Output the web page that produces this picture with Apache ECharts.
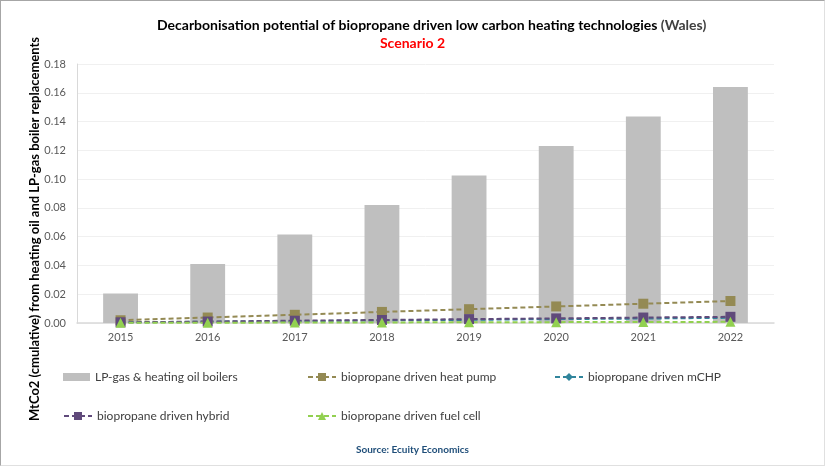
<!DOCTYPE html>
<html><head><meta charset="utf-8">
<script src="https://cdn.jsdelivr.net/npm/echarts@6/dist/echarts.min.js"></script>
<style>
html,body{margin:0;padding:0;background:#fff;}
#frame{position:absolute;left:0;top:0;width:823px;height:464px;border:1px solid #a6a6a6;border-right-color:#e0e0e0;border-bottom-color:#e0e0e0;}
#c{position:absolute;left:0;top:0;width:825px;height:466px;}
</style></head>
<body>
<div id="frame"></div>
<div id="c"></div>
<script>
const years = ['2015','2016','2017','2018','2019','2020','2021','2022'];
const boilers = [0.0205,0.041,0.0615,0.082,0.1025,0.123,0.1435,0.164];
const heatPump = [0.0019,0.0038,0.0057,0.0077,0.0096,0.0115,0.0134,0.0153];
const mCHP = [0.0004,0.0009,0.0013,0.0018,0.0022,0.0027,0.0031,0.0036];
const hybrid = [0.0005,0.0010,0.0016,0.0021,0.0027,0.0032,0.0038,0.0043];
const fuelCell = [0.0001,0.0002,0.0003,0.0004,0.0005,0.0006,0.0007,0.0008];
const names = ['LP-gas & heating oil boilers','biopropane driven heat pump','biopropane driven mCHP','biopropane driven hybrid','biopropane driven fuel cell'];
const yTitle = 'MtCo2 (cmulative) from heating oil and LP-gas boiler replacements';

const chart = echarts.init(document.getElementById('c'), null, {renderer:'canvas'});
const font = 'Lato, "Open Sans", sans-serif';
const legendPos = [[58,366],[302,366],[549,366],[58,405],[302,405]];
const legends = names.map((n,i)=>({
  data:[n], left:legendPos[i][0], top:legendPos[i][1], itemWidth:i===0?27:28, itemHeight:i===0?8:10,
  itemGap:3, textStyle:{fontFamily:font,fontSize:12,color:'#404040'}, icon: i===0?'rect':undefined
}));
function lineSeries(name,data,color,symbol,size){
  return {name, type:'line', data, symbol, symbolSize:size, showSymbol:true,
    lineStyle:{color, width:2, type:[5,3]}, itemStyle:{color}, z:3};
}
chart.setOption({
  animation:false,
  title:[{
    text:'{b|Decarbonisation potential of biopropane driven low carbon heating technologies}{n| (Wales)}',
    left:152, top:13,
    textStyle:{rich:{b:{fontFamily:font,fontSize:14,fontWeight:'bold',color:'#000'},n:{fontFamily:font,fontSize:14,color:'#404040'}}}
  },{
    text:'Scenario 2', left:'center', top:31,
    textStyle:{fontFamily:font,fontSize:14,fontWeight:'bold',color:'#ff0000'}
  },{
    text:'Source: Ecuity Economics', left:'center', top:440,
    textStyle:{fontFamily:font,fontSize:10,fontWeight:'bold',color:'#1f4e79'}
  }],
  graphic:[{
    type:'text', x:35, y:229, rotation:Math.PI/2,
    style:{text:yTitle, fontFamily:font, fontSize:13, fontWeight:'bold', fill:'#000', align:'center', verticalAlign:'middle'}
  }],
  legend:legends,
  grid:{left:77,right:51,top:64,bottom:143},
  xAxis:{type:'category',data:years,
    axisLine:{lineStyle:{color:'#d9d9d9',width:1.5}},axisTick:{show:false},
    axisLabel:{fontFamily:font,fontSize:11,color:'#595959',margin:9}},
  yAxis:{type:'value',min:0,max:0.18,interval:0.02,
    axisLine:{show:true,lineStyle:{color:'#d9d9d9'}},
    splitLine:{lineStyle:{color:'#f0f0f0'}},
    axisLabel:{fontFamily:font,fontSize:11,color:'#595959',margin:11,formatter:v=>v.toFixed(2)}},
  series:[
    {name:names[0],type:'bar',data:boilers,barWidth:'40%',itemStyle:{color:'#bfbfbf'},z:2},
    lineSeries(names[1],heatPump,'#948a54','rect',10),
    lineSeries(names[2],mCHP,'#31859c','diamond',8),
    lineSeries(names[3],hybrid,'#604a7b','rect',10),
    lineSeries(names[4],fuelCell,'#92d050','triangle',10)
  ]
});
</script>
</body></html>
